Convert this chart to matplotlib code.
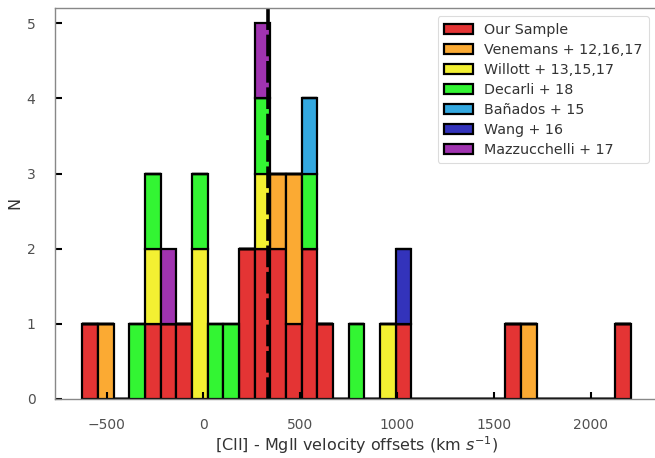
import numpy as np
import matplotlib
matplotlib.use('Agg')
import matplotlib.pyplot as plt

# velocity offsets [CII] - MgII (km/s)
our_sample = [-590, -265, -180, -95, 210, 240, 290, 320, 370, 410, 470, 530, 560, 630, 1030, 1600, 2170]
venemans = [-500, 390, 450, 490, 1680]
willott = [-260, -30, 5, 310, 950]
decarli = [-340, -250, -20, 60, 140, 300, 545, 790]
banados = [550]
wang = [1040]
mazzucchelli = [-175, 330]

labels = ['Our Sample', 'Venemans + 12,16,17', 'Willott + 13,15,17', 'Decarli + 18',
          'Bañados + 15', 'Wang + 16', 'Mazzucchelli + 17']
colors = ['#E43434', '#FBAA33', '#F3F032', '#33F533', '#33A8E0', '#3333BB', '#A033B0']

V_MIN, V_MAX, N_BINS = -625, 2206, 35
median_v = 335

fig = plt.figure(figsize=(6.55, 4.58), dpi=100)
ax = fig.add_axes([55 / 655, 59 / 458, 603 / 655, 391.5 / 458])

data = [our_sample, venemans, willott, decarli, banados, wang, mazzucchelli]
bins = np.linspace(V_MIN, V_MAX, N_BINS + 1)
ax.hist(data, bins=bins, stacked=True, color=colors, label=labels,
        edgecolor='black', linewidth=1.6)
ax.axvline(median_v, color='black', lw=2.6, dashes=(6, 1.3))

ax.set_xlim(-766, 2348)
ax.set_ylim(0, 5.21)
ax.set_yticks(range(6))
ax.set_xticks([-500, 0, 500, 1000, 1500, 2000])
ax.tick_params(direction='in', length=5, width=1.5, color='black',
               labelcolor='#505050', labelsize=10, pad=14)
for s in ax.spines.values():
    s.set_color('#888888')
    s.set_linewidth(1.0)

ax.set_xlabel('[CII] - MgII velocity offsets (km $s^{-1}$)', fontsize=11.5,
              color='#333333', labelpad=1)
ax.set_ylabel('N', fontsize=11.5, color='#333333', labelpad=3)

leg = ax.legend(loc='upper right', fontsize=10.3, frameon=True, borderpad=0.45,
                labelspacing=0.42, handlelength=2.0, borderaxespad=0,
                bbox_to_anchor=(0.985, 0.978), edgecolor='#dcdcdc', framealpha=1.0)
leg.get_frame().set_linewidth(0.8)
for t in leg.get_texts():
    t.set_color('#333333')

fig.savefig('out.png', dpi=100)
